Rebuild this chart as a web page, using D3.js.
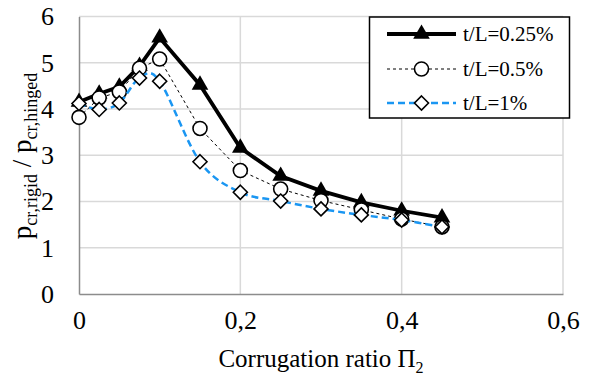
<!DOCTYPE html>
<html>
<head>
<meta charset="utf-8">
<script src="https://cdn.jsdelivr.net/npm/d3@7"></script>
<style>
  body { margin: 0; background: #fff; }
</style>
</head>
<body>
<div></div>
<script>
const ratio = [0, 0.025, 0.05, 0.075, 0.1, 0.15, 0.2, 0.25, 0.3, 0.35, 0.4, 0.45];
const tl025 = [4.15, 4.33, 4.48, 4.93, 5.54, 4.52, 3.16, 2.55, 2.23, 1.98, 1.8, 1.65];
const tl05 = [3.82, 4.24, 4.37, 4.88, 5.08, 3.58, 2.67, 2.27, 2.02, 1.82, 1.62, 1.45];
const tl1 = [4.12, 3.99, 4.13, 4.67, 4.6, 2.86, 2.2, 2.01, 1.84, 1.71, 1.6, 1.45];
const seriesNames = ["t/L=0.25%", "t/L=0.5%", "t/L=1%"];
const xTicks = [0, 0.2, 0.4, 0.6];
const yTicks = [0, 1, 2, 3, 4, 5, 6];

const FONT = "Liberation Serif";
const W = 590, H = 376;
const svg = d3.select("div").append("svg").attr("width", W).attr("height", H)
  .attr("font-family", FONT);

const x = d3.scaleLinear().domain([0, 0.6]).range([79, 563]);
const y = d3.scaleLinear().domain([0, 6]).range([294, 16.5]);

// gridlines
svg.append("g").selectAll("line").data(yTicks.slice(1)).join("line")
  .attr("x1", x(0)).attr("x2", x(0.6))
  .attr("y1", d => y(d)).attr("y2", d => y(d))
  .attr("stroke", "#d9d9d9").attr("stroke-width", 1.5);
svg.append("g").selectAll("line").data(xTicks.slice(1)).join("line")
  .attr("x1", d => x(d)).attr("x2", d => x(d))
  .attr("y1", y(0)).attr("y2", y(6))
  .attr("stroke", "#d9d9d9").attr("stroke-width", 1.5);

// axes
const xAxis = svg.append("g").attr("transform", "translate(0," + y(0) + ")")
  .call(d3.axisBottom(x).tickValues(xTicks).tickSize(0).tickPadding(17)
    .tickFormat(d => d === 0 ? "0" : d3.format(".1f")(d).replace(".", ",")));
xAxis.attr("font-family", FONT).attr("font-size", 26);
xAxis.select(".domain").attr("stroke", "#8c8c8c").attr("stroke-width", 1.5);
xAxis.selectAll("text").attr("font-size", 26).attr("font-family", FONT).attr("fill", "#000");

const yAxis = svg.append("g").attr("transform", "translate(" + x(0) + ",0)")
  .call(d3.axisLeft(y).tickValues(yTicks).tickSize(0).tickPadding(25).tickFormat(d3.format("d")));
yAxis.attr("font-family", FONT).attr("font-size", 26);
yAxis.select(".domain").attr("stroke", "#8c8c8c").attr("stroke-width", 1.5);
yAxis.selectAll("text").attr("font-size", 26).attr("font-family", FONT).attr("fill", "#000");

// axis titles
const xt = svg.append("text").attr("x", 321).attr("y", 367).attr("text-anchor", "middle")
  .attr("font-family", FONT).attr("font-size", 25);
xt.append("tspan").text("Corrugation ratio Π");
xt.append("tspan").attr("font-size", 16).attr("dy", 6).text("2");

const yt = svg.append("text").attr("transform", "translate(31,156) rotate(-90)")
  .attr("text-anchor", "middle").attr("font-family", FONT).attr("font-size", 27);
yt.append("tspan").text("p");
yt.append("tspan").attr("font-size", 18).attr("dy", 6).text("cr,rigid");
yt.append("tspan").attr("dy", -6).text(" / p");
yt.append("tspan").attr("font-size", 18).attr("dy", 6).text("cr,hinged");

// series
const pts = vals => ratio.map((r, i) => [x(r), y(vals[i])]);
const styles = [
  { vals: tl025, stroke: "#000", width: 3.8, dash: null, curve: d3.curveLinear, marker: "tri" },
  { vals: tl05, stroke: "#000", width: 1, dash: "3,3", curve: d3.curveLinear, marker: "circ" },
  { vals: tl1, stroke: "#1a96f2", width: 2.5, dash: "7,4", curve: d3.curveCatmullRom.alpha(0), marker: "dia" }
];

function drawMarker(g, kind, cx, cy) {
  if (kind === "tri") {
    g.append("path").attr("d", d3.symbol(d3.symbolTriangle, 120)())
      .attr("transform", "translate(" + cx + "," + cy + ")").attr("fill", "#000");
  } else if (kind === "circ") {
    g.append("circle").attr("cx", cx).attr("cy", cy).attr("r", 7)
      .attr("fill", "#fff").attr("stroke", "#000").attr("stroke-width", 1.6);
  } else {
    g.append("path").attr("d", "M0,-7L7,0L0,7L-7,0Z")
      .attr("transform", "translate(" + cx + "," + cy + ")")
      .attr("fill", "#fff").attr("stroke", "#000").attr("stroke-width", 1.6);
  }
}

styles.forEach(s => {
  const p = pts(s.vals);
  svg.append("path").attr("d", d3.line().curve(s.curve)(p))
    .attr("fill", "none").attr("stroke", s.stroke).attr("stroke-width", s.width)
    .attr("stroke-dasharray", s.dash);
  const g = svg.append("g");
  p.forEach(q => drawMarker(g, s.marker, q[0], q[1]));
});

// legend
const lg = svg.append("g");
lg.append("rect").attr("x", 369.5).attr("y", 17).attr("width", 200).attr("height", 101)
  .attr("fill", "#fff").attr("stroke", "#000").attr("stroke-width", 1.5);
const rowY = [34, 69, 103];
styles.forEach((s, i) => {
  lg.append("line").attr("x1", 387).attr("x2", 456).attr("y1", rowY[i]).attr("y2", rowY[i])
    .attr("stroke", s.stroke).attr("stroke-width", s.width).attr("stroke-dasharray", s.dash);
  drawMarker(lg, s.marker, 421.5, rowY[i]);
  lg.append("text").attr("x", 463).attr("y", rowY[i] + 7).attr("font-family", FONT)
    .attr("font-size", 21).text(seriesNames[i]);
});
</script>
</body>
</html>
